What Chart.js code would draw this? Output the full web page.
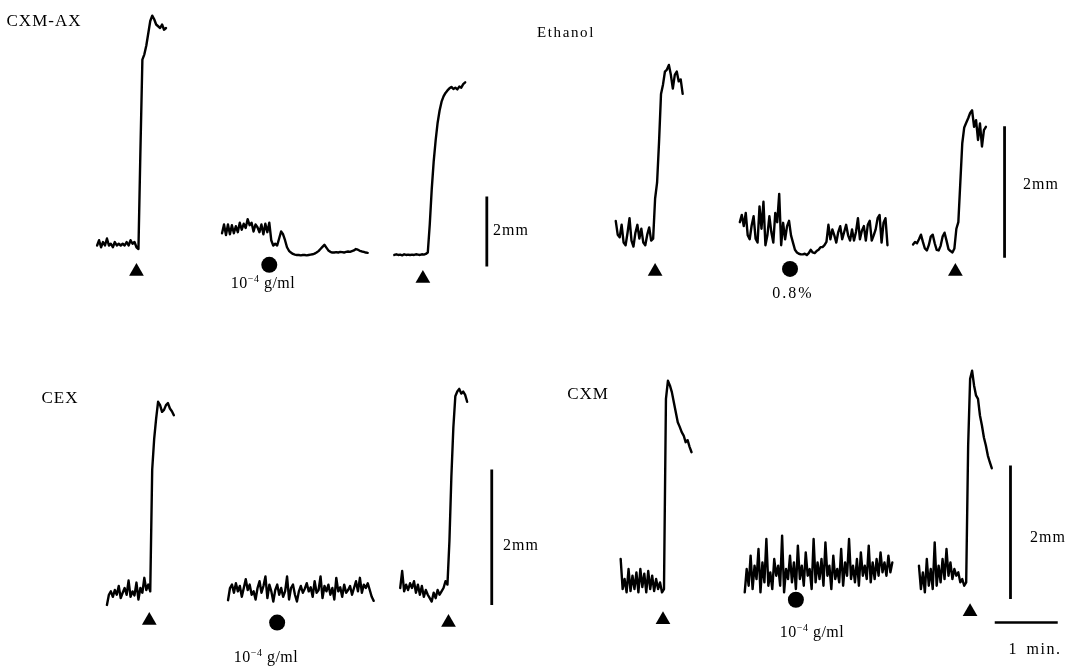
<!DOCTYPE html>
<html>
<head>
<meta charset="utf-8">
<title>Contraction traces</title>
<script src="https://cdn.jsdelivr.net/npm/chart.js"></script>
<style>
html, body { margin: 0; padding: 0; background: #fff; }
#wrap { position: relative; width: 1079px; height: 668px; overflow: hidden; }
#traces { position: absolute; left: 0; top: 0; }
.lbl { position: absolute; transform: translate(-50%, -50%); font-family: "Liberation Serif", "DejaVu Serif", serif; font-size: 16px; line-height: 1; color: #000; white-space: nowrap; }
.lbl sup { font-size: 10px; vertical-align: 6px; line-height: 0; }
</style>
</head>
<body>
<div id="wrap">
  <canvas id="traces" width="1079" height="668"></canvas>

  <span class="lbl" style="left:44px;top:20px;letter-spacing:1px;font-size:17px">CXM-AX</span>
  <span class="lbl" style="left:566px;top:32px;letter-spacing:1.6px;font-size:15px">Ethanol</span>
  <span class="lbl" style="left:511px;top:230px;letter-spacing:1px">2mm</span>
  <span class="lbl" style="left:263px;top:283px;letter-spacing:0.5px">10<sup>−4</sup> g/ml</span>
  <span class="lbl" style="left:1041px;top:184px;letter-spacing:1px">2mm</span>
  <span class="lbl" style="left:793px;top:293px;letter-spacing:2px">0.8%</span>

  <span class="lbl" style="left:60px;top:397px;letter-spacing:1px;font-size:17px">CEX</span>
  <span class="lbl" style="left:521px;top:545px;letter-spacing:1px">2mm</span>
  <span class="lbl" style="left:266px;top:657px;letter-spacing:0.5px">10<sup>−4</sup> g/ml</span>
  <span class="lbl" style="left:588px;top:393px;letter-spacing:1px;font-size:17px">CXM</span>
  <span class="lbl" style="left:1048px;top:537px;letter-spacing:1px">2mm</span>
  <span class="lbl" style="left:812px;top:632px;letter-spacing:0.5px">10<sup>−4</sup> g/ml</span>
  <span class="lbl" style="left:1035px;top:649px;letter-spacing:1.5px;word-spacing:3px">1 min.</span>
</div>

<script>
// recorder sample interval, seconds
const SAMPLE_S = 1.875;

// deflection in mm; before stimulus / during test drug / after washout
const cxmAxBefore = [0.3, 0.45, 0.25, 0.4, 0.3, 0.5, 0.3, 0.35, 0.25, 0.4, 0.3, 0.35, 0.3, 0.35, 0.3, 0.4, 0.3, 0.45, 0.35, 0.4,
    0.25, 0.2, 3.0, 5.6, 5.75, 6.0, 6.35, 6.7, 6.85, 6.75, 6.6, 6.55, 6.5, 6.6, 6.45, 6.5];
const cxmAxDuring = [0.65, 0.9, 0.6, 0.9, 0.62, 0.88, 0.65, 0.85, 0.68, 0.95, 0.75, 0.92, 0.8, 1.05, 0.88, 0.95, 0.7, 0.9, 0.82, 0.68,
    0.9, 0.62, 0.92, 0.68, 0.95, 0.45, 0.3, 0.35, 0.3, 0.5, 0.7, 0.62, 0.45, 0.25, 0.15, 0.1, 0.06, 0.04, 0.03, 0.03,
    0.02, 0.03, 0.03, 0.02, 0.03, 0.04, 0.05, 0.07, 0.1, 0.14, 0.2, 0.26, 0.32, 0.24, 0.16, 0.12, 0.1, 0.1, 0.11, 0.1,
    0.12, 0.11, 0.1, 0.12, 0.13, 0.12, 0.14, 0.16, 0.2, 0.18, 0.15, 0.13, 0.12, 0.1, 0.09];
const cxmAxAfter = [0.03, 0.05, 0.03, 0.04, 0.02, 0.05, 0.03, 0.04, 0.03, 0.04, 0.03, 0.05, 0.04, 0.03, 0.05, 0.04, 0.06, 0.1,
    0.9, 1.9, 2.7, 3.3, 3.8, 4.15, 4.4, 4.55, 4.65, 4.72, 4.78, 4.82, 4.76, 4.8, 4.75, 4.83, 4.8, 4.9, 4.95];

const ethBefore = [0.52, 0.31, 0.27, 0.46, 0.19, 0.15, 0.34, 0.56, 0.22, 0.13, 0.34, 0.46, 0.25, 0.4, 0.19, 0.15, 0.31, 0.42, 0.22, 0.25,
    0.86, 1.1, 1.72, 2.45, 2.59, 2.79, 2.82, 2.89, 2.74, 2.53, 2.74, 2.79, 2.64, 2.67, 2.45];
const ethDuring = [0.5, 0.61, 0.44, 0.64, 0.3, 0.24, 0.45, 0.59, 0.25, 0.19, 0.74, 0.4, 0.81, 0.15, 0.3, 0.59, 0.35, 0.19, 0.64, 0.5,
    0.93, 0.15, 0.49, 0.24, 0.44, 0.52, 0.3, 0.19, 0.08, 0.04, 0.02, 0.01, 0.01, 0.02, 0.0, 0.03, 0.08, 0.04, 0.03, 0.06,
    0.08, 0.12, 0.12, 0.15, 0.2, 0.46, 0.24, 0.39, 0.3, 0.19, 0.35, 0.44, 0.24, 0.35, 0.46, 0.3, 0.22, 0.39, 0.22, 0.35,
    0.56, 0.24, 0.37, 0.44, 0.22, 0.46, 0.52, 0.22, 0.3, 0.39, 0.56, 0.61, 0.19, 0.49, 0.56, 0.15];
const ethAfter = [0.16, 0.2, 0.18, 0.24, 0.31, 0.2, 0.1, 0.07, 0.15, 0.28, 0.31, 0.18, 0.08, 0.07, 0.14, 0.28, 0.34, 0.22, 0.09, 0.06,
    0.04, 0.1, 0.4, 0.5, 1.1, 1.7, 1.94, 2.01, 2.08, 2.16, 2.2, 1.95, 2.05, 1.75, 2.0, 1.65, 1.9, 1.95];

const cexBefore = [0.0, 0.15, 0.2, 0.12, 0.22, 0.15, 0.28, 0.1, 0.18, 0.25, 0.15, 0.36, 0.12, 0.2, 0.14, 0.33, 0.08, 0.25, 0.18, 0.4,
    0.22, 0.3, 0.2, 2.0, 2.45, 2.75, 3.0, 2.95, 2.85, 2.88, 2.95, 2.98, 2.9, 2.86, 2.8];
const cexDuring = [0.07, 0.25, 0.3, 0.18, 0.32, 0.2, 0.28, 0.12, 0.25, 0.38, 0.22, 0.3, 0.15, 0.2, 0.08, 0.25, 0.35, 0.18, 0.28, 0.42,
    0.1, 0.3, 0.2, 0.05, 0.22, 0.3, 0.15, 0.25, 0.12, 0.2, 0.42, 0.08, 0.25, 0.3, 0.15, 0.05, 0.2, 0.28, 0.18, 0.24,
    0.32, 0.2, 0.26, 0.12, 0.35, 0.18, 0.22, 0.42, 0.1, 0.28, 0.2, 0.3, 0.15, 0.25, 0.08, 0.4, 0.2, 0.26, 0.12, 0.3,
    0.18, 0.22, 0.28, 0.15, 0.25, 0.35, 0.2, 0.4, 0.18, 0.3, 0.25, 0.32, 0.22, 0.12, 0.06];
const cexAfter = [0.25, 0.5, 0.2, 0.3, 0.22, 0.32, 0.25, 0.35, 0.18, 0.3, 0.15, 0.28, 0.12, 0.22, 0.15, 0.1, 0.05, 0.18, 0.1, 0.22,
    0.15, 0.2, 0.25, 0.35, 0.3, 0.94, 1.9, 2.62, 3.08, 3.15, 3.19, 3.12, 3.15, 3.1, 3.0];

const cxmBefore = [0.6, 0.15, 0.3, 0.1, 0.45, 0.12, 0.35, 0.15, 0.4, 0.1, 0.45, 0.18, 0.38, 0.1, 0.42, 0.15, 0.35, 0.12, 0.3, 0.15,
    0.25, 0.1, 0.15, 3.0, 3.27, 3.2, 3.1, 2.95, 2.8, 2.65, 2.58, 2.5, 2.45, 2.35, 2.38, 2.28, 2.2];
const cxmDuring = [0.1, 0.45, 0.2, 0.65, 0.15, 0.5, 0.3, 0.75, 0.1, 0.55, 0.25, 0.9, 0.2, 0.4, 0.15, 0.6, 0.35, 0.5, 0.2, 0.95,
    0.1, 0.45, 0.3, 0.65, 0.25, 0.55, 0.15, 0.8, 0.3, 0.5, 0.2, 0.7, 0.35, 0.45, 0.15, 0.9, 0.25, 0.55, 0.3, 0.6,
    0.2, 0.85, 0.35, 0.5, 0.15, 0.65, 0.3, 0.45, 0.25, 0.75, 0.2, 0.55, 0.35, 0.9, 0.3, 0.5, 0.25, 0.6, 0.2, 0.7,
    0.35, 0.5, 0.3, 0.8, 0.25, 0.55, 0.3, 0.6, 0.35, 0.7, 0.4, 0.55, 0.35, 0.65, 0.4, 0.55];
const cxmAfter = [0.5, 0.15, 0.4, 0.1, 0.6, 0.2, 0.45, 0.15, 0.85, 0.2, 0.5, 0.25, 0.6, 0.3, 0.75, 0.35, 0.55, 0.3, 0.45, 0.35,
    0.4, 0.25, 0.3, 0.2, 0.25, 2.3, 3.3, 3.42, 3.2, 3.05, 3.0, 2.75, 2.6, 2.42, 2.3, 2.15, 2.05, 1.96];

// start of each record, seconds on the common time base
const startsCxmAx = [84.4, 203.4, 367.5];
const startsEth = [578.4, 696.6, 861.6];
const startsCex = [93.75, 209.1, 373.1];
const startsCxm = [583.1, 701.25, 867.2];

// stimulus marks: ▲ test contraction, ● drug applied
const triangleTimes = { A: [121.9, 394.7], E: [615.9, 901.9], C: [134.1, 419.1], M: [623.4, 915.9] };
const circleTimes = { A: 248.4, E: 744.4, C: 255.9, M: 750 };

const SCALE_MM = 2;
const TIME_BAR_S = 60;

// panel layout: where 0 mm sits and recorder gain in px per mm
const H = 668;
const panels = {
    A: { zero: 254, ppm: 36, markY: [-0.44, -0.64], dotY: -0.25, barX: 455.6, barBase: -0.3 },
    E: { zero: 253, ppm: 67.5, markY: [-0.25, -0.25], dotY: -0.21, barX: 948.75, barBase: -0.04 },
    C: { zero: 612, ppm: 69.5, markY: [-0.23, -0.26], dotY: -0.26, barX: 460.3, barBase: 0 },
    M: { zero: 606, ppm: 68.5, markY: [-0.31, -0.19], dotY: -0.01, barX: 954.4, barBase: 0 }
};

function yAxis(p) {
    return { type: 'linear', display: false, min: -(H - p.zero) / p.ppm, max: p.zero / p.ppm };
}

function trace(values, start, axis) {
    return {
        data: values.map(function(v, i) { return { x: start + i * SAMPLE_S, y: v }; }),
        yAxisID: 'y' + axis,
        borderColor: '#000', borderWidth: 2.4, borderJoinStyle: 'round', borderCapStyle: 'round',
        pointRadius: 0, tension: 0, fill: false
    };
}

function marks(axis) {
    var p = panels[axis];
    var tri = {
        data: triangleTimes[axis].map(function(t, i) { return { x: t, y: p.markY[i] }; }),
        yAxisID: 'y' + axis, showLine: false,
        pointStyle: 'triangle', pointRadius: 8.5, pointBackgroundColor: '#000', pointBorderWidth: 0
    };
    var dot = {
        data: [{ x: circleTimes[axis], y: p.dotY }],
        yAxisID: 'y' + axis, showLine: false,
        pointStyle: 'circle', pointRadius: 8, pointBackgroundColor: '#000', pointBorderWidth: 0
    };
    var bar = {
        data: [{ x: p.barX, y: p.barBase }, { x: p.barX, y: p.barBase + SCALE_MM }],
        yAxisID: 'y' + axis, borderColor: '#000', borderWidth: 2.8, pointRadius: 0
    };
    return [tri, dot, bar];
}

var datasets = [];
[[cxmAxBefore, cxmAxDuring, cxmAxAfter], [ethBefore, ethDuring, ethAfter],
 [cexBefore, cexDuring, cexAfter], [cxmBefore, cxmDuring, cxmAfter]].forEach(function(group, g) {
    var axis = ['A', 'E', 'C', 'M'][g];
    var starts = [startsCxmAx, startsEth, startsCex, startsCxm][g];
    group.forEach(function(vals, i) { datasets.push(trace(vals, starts[i], axis)); });
    marks(axis).forEach(function(d) { datasets.push(d); });
});

// 1 min time bar under the CXM panel
datasets.push({
    data: [{ x: 939.4, y: -0.35 }, { x: 939.4 + TIME_BAR_S, y: -0.35 }],
    yAxisID: 'yM', borderColor: '#000', borderWidth: 2.4, pointRadius: 0
});

new Chart(document.getElementById('traces').getContext('2d'), {
    type: 'line',
    data: { datasets: datasets },
    options: {
        responsive: false,
        animation: false,
        events: [],
        layout: { padding: 0 },
        plugins: { legend: { display: false }, tooltip: { enabled: false } },
        scales: {
            x: { type: 'linear', display: false, min: 0, max: 1079 * 60 / 64 },
            yA: yAxis(panels.A),
            yE: yAxis(panels.E),
            yC: yAxis(panels.C),
            yM: yAxis(panels.M)
        }
    }
});
</script>
</body>
</html>
